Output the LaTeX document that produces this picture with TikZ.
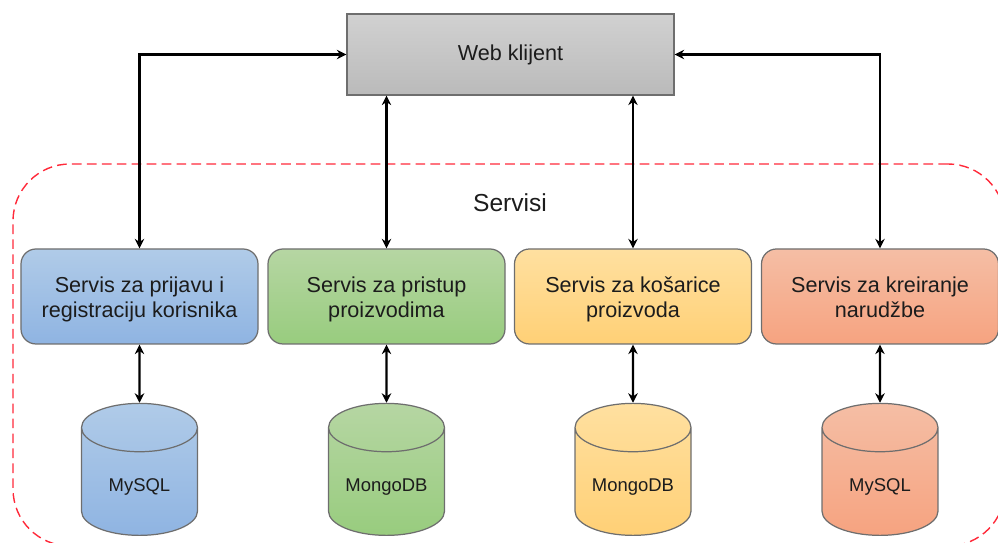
\documentclass[tikz,border=0pt]{standalone}
\usepackage{fontspec}
\setmainfont{Liberation Sans}
\usepackage{tikz}
\usetikzlibrary{shapes.geometric,arrows.meta,positioning}

\definecolor{edgegray}{HTML}{6E6E6E}
\definecolor{textgray}{HTML}{1C1C1C}
\definecolor{framered}{HTML}{FF2A3A}
\newcommand{\dblabel}[1]{\raisebox{-0.08cm}[0pt][0pt]{#1}}
\newcommand{\svclabel}[2]{\rule{0pt}{13.9pt}#1 \\ #2\rule[-4pt]{0pt}{4pt}}

\begin{document}
\begin{tikzpicture}[
    client/.style={rectangle, draw=edgegray, line width=0.7pt, minimum width=6.54cm, minimum height=1.62cm, top color=black!18, bottom color=black!27, text=textgray, font=\fontsize{12.3}{15}\selectfont},
    service/.style={rectangle, draw=edgegray, line width=0.7pt, rounded corners=0.3cm, align=center, minimum width=4.74cm, minimum height=1.9cm, text=textgray, font=\fontsize{12.3}{14.3}\selectfont},
    database/.style={cylinder, shape border rotate=90, aspect=0.5, anchor=south, draw=edgegray, line width=0.7pt, text width=1.7cm, align=center, minimum width=2.32cm, minimum height=2.64cm, text=textgray, font=\fontsize{10.5}{13}\selectfont},
    arrow/.style={{Stealth[length=1.9mm,width=1.9mm]}-{Stealth[length=1.9mm,width=1.9mm]}, line width=1.2pt, black},
    blueshade/.style={top color={rgb,255:red,176;green,203;blue,232}, bottom color={rgb,255:red,143;green,180;blue,226}},
    greenshade/.style={top color={rgb,255:red,182;green,214;blue,163}, bottom color={rgb,255:red,152;green,204;blue,126}},
    yellowshade/.style={top color={rgb,255:red,255;green,224;blue,160}, bottom color={rgb,255:red,255;green,208;blue,118}},
    redshade/.style={top color={rgb,255:red,245;green,190;blue,165}, bottom color={rgb,255:red,246;green,163;blue,128}}
]
\useasboundingbox (0,0) rectangle (19.96,10.86);

% Services frame
\node[rectangle, draw=framered, line width=0.8pt, dash pattern=on 5.5pt off 3pt, rounded corners=1.14cm, minimum width=19.84cm, minimum height=7.64cm] at (10.18,3.76) (frame) {};
\node[font=\fontsize{14}{17}\selectfont, text=textgray] at (10.2,6.80) (servisi) {Servisi};

% Client
\node[client] at (10.21,9.77) (web) {Web klijent};

% Services
\node[service, blueshade] at (2.79,4.93) (prijava) {\svclabel{Servis za prijavu i}{registraciju korisnika}};
\node[service, greenshade] at (7.73,4.93) (pristup) {\svclabel{Servis za pristup}{proizvodima}};
\node[service, yellowshade] at (12.66,4.93) (kosarice) {\svclabel{Servis za košarice}{proizvoda}};
\node[service, redshade] at (17.6,4.93) (narudzbe) {\svclabel{Servis za kreiranje}{narudžbe}};

% Databases
\node[database, blueshade] at (2.79,0.14) (mysqlA) {\dblabel{MySQL}};
\node[database, greenshade] at (7.73,0.14) (mongoA) {\dblabel{MongoDB}};
\node[database, yellowshade] at (12.66,0.14) (mongoB) {\dblabel{MongoDB}};
\node[database, redshade] at (17.6,0.14) (mysqlB) {\dblabel{MySQL}};

% Arrows
\draw[arrow] (web.west) -| (prijava.north);
\draw[arrow] (web.south -| pristup.north) -- (pristup.north);
\draw[arrow] (web.south -| kosarice.north) -- (kosarice.north);
\draw[arrow] (web.east) -| (narudzbe.north);

\draw[arrow] (prijava.south) -- (mysqlA.north);
\draw[arrow] (pristup.south) -- (mongoA.north);
\draw[arrow] (kosarice.south) -- (mongoB.north);
\draw[arrow] (narudzbe.south) -- (mysqlB.north);

\end{tikzpicture}
\end{document}
